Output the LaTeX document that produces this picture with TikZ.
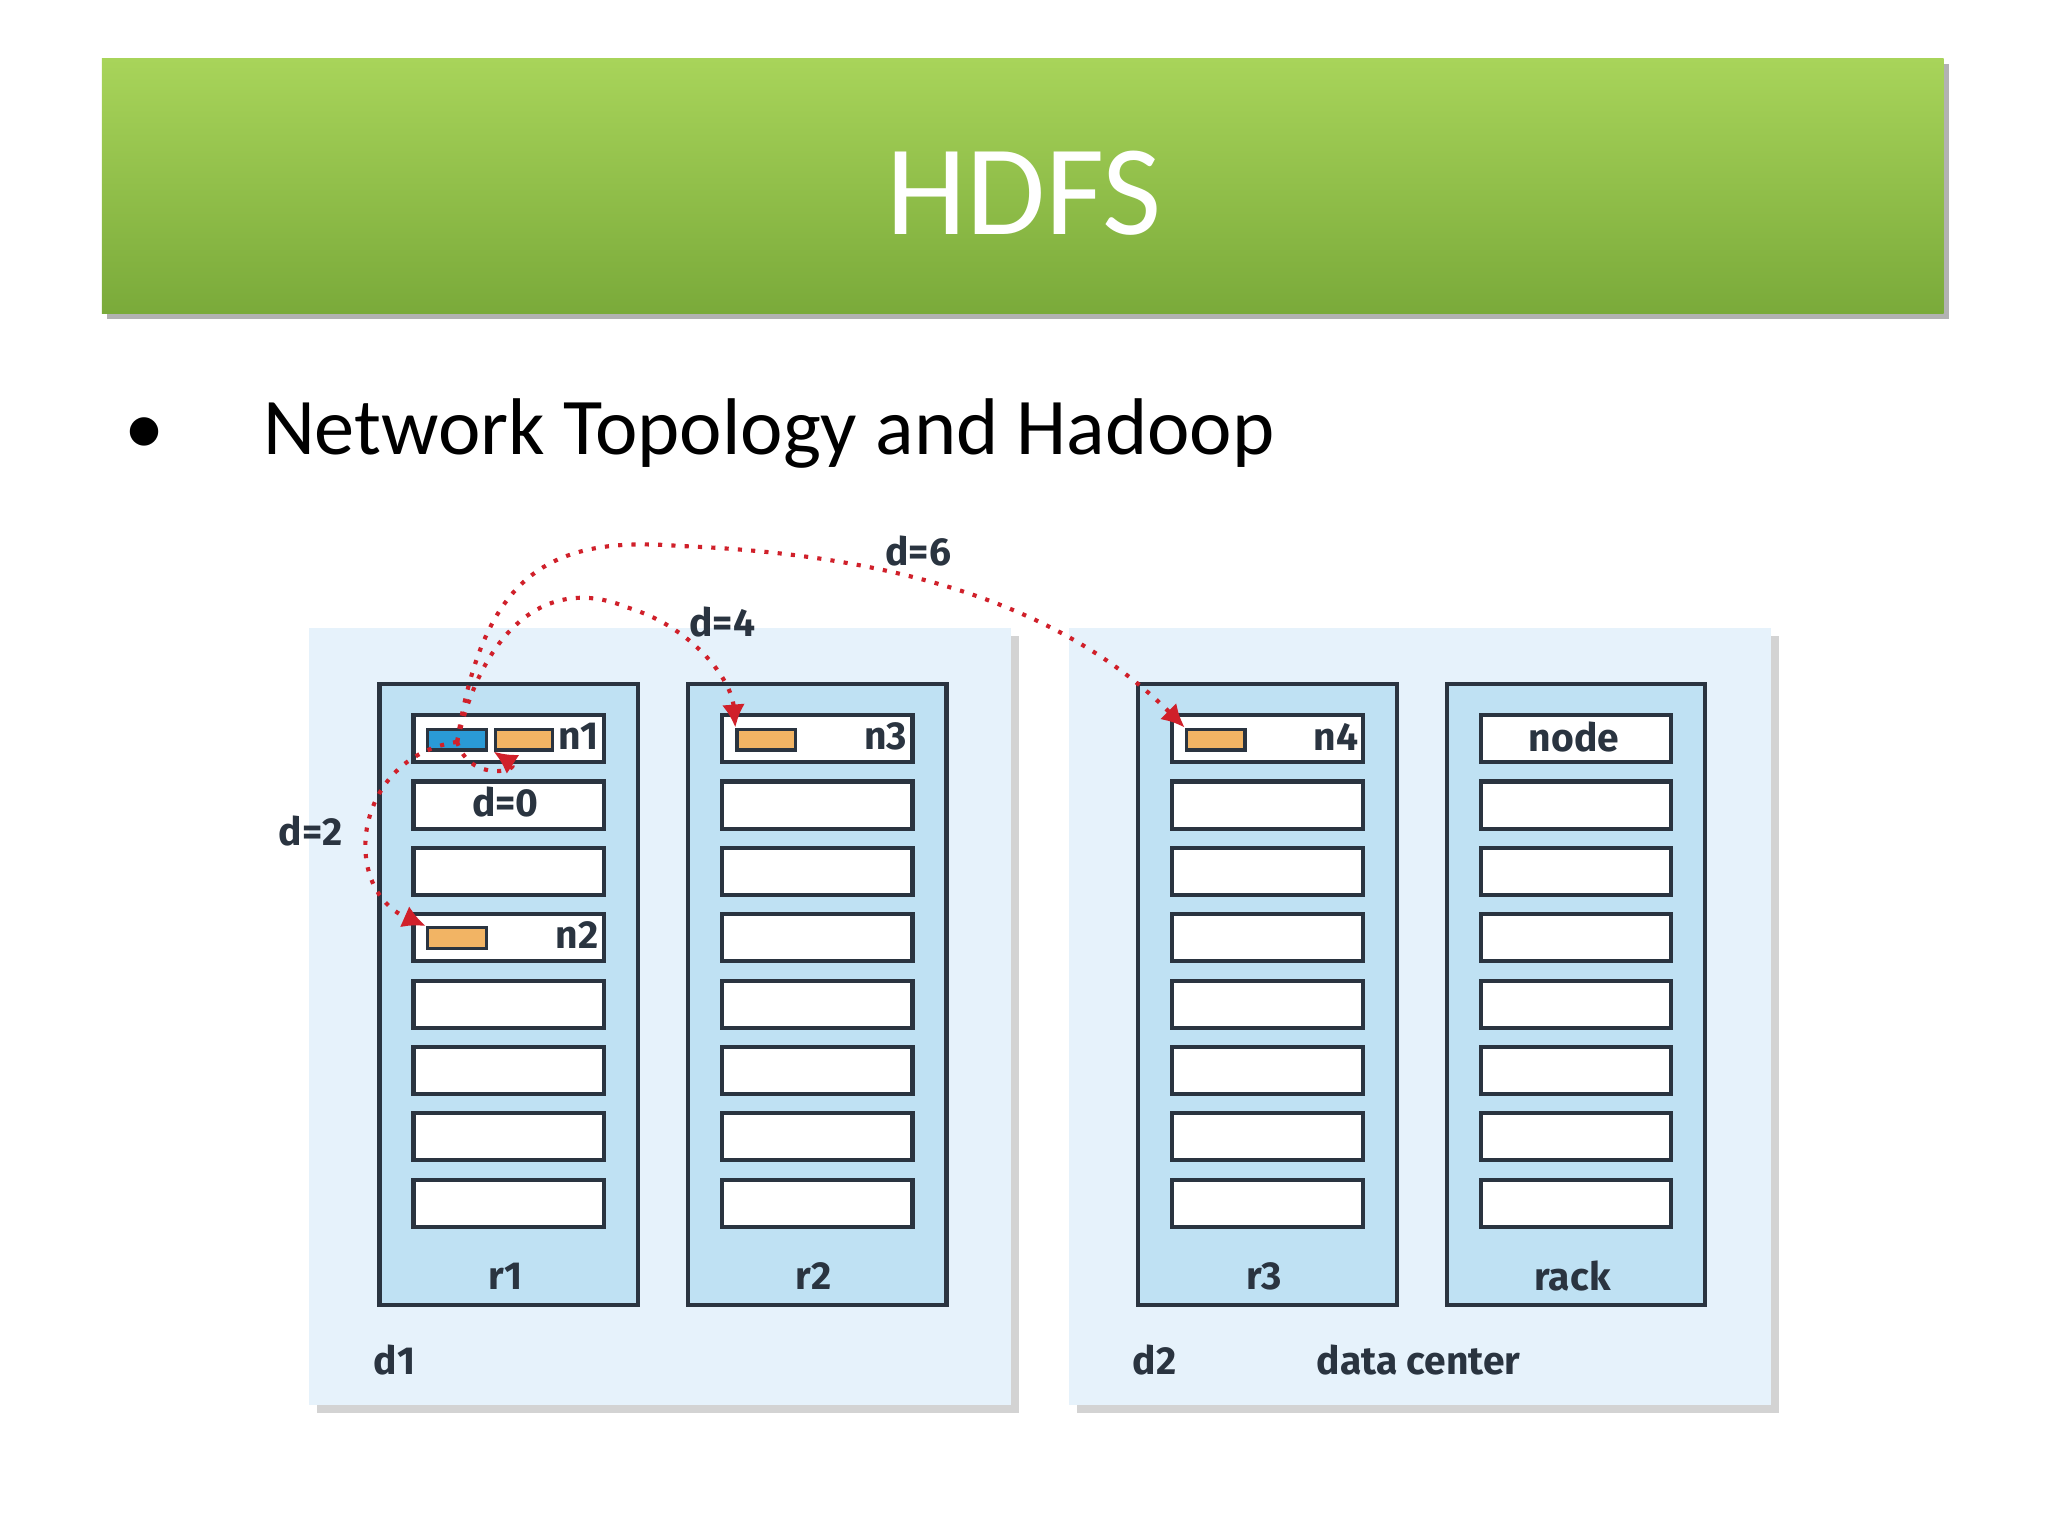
\documentclass[tikz,border=0pt]{standalone}
\usepackage{fontspec}
\setmainfont{Carlito}
\newfontfamily\lbl{Fira Sans}
\usetikzlibrary{arrows.meta,shadows}
\definecolor{dcfill}{HTML}{E6F2FB}
\definecolor{rackfill}{HTML}{BFE1F3}
\definecolor{edge}{HTML}{2A3440}
\definecolor{blk}{HTML}{F2B464}
\definecolor{blu}{HTML}{2A9AD6}
\definecolor{arr}{HTML}{D0202A}
\definecolor{gtop}{HTML}{A8D45A}
\definecolor{gbot}{HTML}{7AAA3A}
\begin{document}
\begin{tikzpicture}[x=0.01cm,y=-0.01cm,
  dc/.style={fill=dcfill,draw=none,drop shadow={shadow xshift=0.06cm,shadow yshift=-0.06cm,opacity=0.35}},
  rackbox/.style={fill=rackfill,draw=edge,line width=0.9pt},
  nodebox/.style={fill=white,draw=edge,line width=0.9pt},
  blkbox/.style={fill=blk,draw=edge,line width=0.7pt},
  lab/.style={font=\lbl\bfseries\fontsize{8.5}{9}\selectfont,text=edge,inner sep=0pt},
  hop/.style={draw=arr,line width=0.9pt,dotted,-{Latex[length=5pt,width=5pt]}}]
\useasboundingbox (0,0) rectangle (1568,1176);
% title bar
\fill[black!30] (82,49) rectangle (1492,244);
\shade[top color=gtop,bottom color=gbot] (78,45) rectangle (1488,240);
\node[text=white,font=\fontsize{28}{30}\selectfont] (title) at (784,148) {HDFS};
\node[anchor=base west,font=\fontsize{17.5}{20}\selectfont,inner sep=0pt] (bul) at (95,348) {\textbullet\hspace{0.75cm}Network Topology and Hadoop};
% data centers
\node[dc,minimum width=5.37cm,minimum height=5.95cm,anchor=north west] (d1) at (236,480) {};
\node[dc,minimum width=5.37cm,minimum height=5.95cm,anchor=north west] (d2) at (818,480) {};
% racks and nodes
\foreach \rx/\nm/\rl in {289/r1/r1,525/r2/r2,870/r3/r3,1106/rk/rack}{
  \node[rackbox,minimum width=1.98cm,minimum height=4.75cm,anchor=north west] (\nm) at (\rx,522) {};
  \node[lab] (\nm lab) at (\rx+98,977) {\rl};
  \foreach \i in {0,...,7}{
    \node[nodebox,minimum width=1.46cm,minimum height=0.36cm,anchor=north west,inner sep=0pt] (\nm n\i) at (\rx+26,546+\i*50.8) {};
  }
}
\node[lab] (d1lab) at (302,1041) {d1};
\node[lab] (d2lab) at (884,1041) {d2};
\node[lab] (dclab) at (1086,1041) {data center};
\node[lab] (nodelab) at (1205,564) {node};
% blocks
\node[fill=blu,draw=edge,line width=0.7pt,minimum width=0.45cm,minimum height=0.16cm,inner sep=0pt,anchor=north west] (b0) at (326,557) {};
\node[blkbox,minimum width=0.44cm,minimum height=0.16cm,inner sep=0pt,anchor=north west] (b1) at (378,557) {};
\node[blkbox,minimum width=0.45cm,minimum height=0.16cm,inner sep=0pt,anchor=north west] (b2) at (326,709) {};
\node[blkbox,minimum width=0.45cm,minimum height=0.16cm,inner sep=0pt,anchor=north west] (b3) at (563,557) {};
\node[blkbox,minimum width=0.45cm,minimum height=0.16cm,inner sep=0pt,anchor=north west] (b4) at (907,557) {};
\node[lab] (n1) at (443,564) {n1};
\node[lab] (n2) at (442,716) {n2};
\node[lab] (n3) at (678,564) {n3};
\node[lab] (n4) at (1023,564) {n4};
\node[lab] (d0) at (387,614) {d=0};
\node[lab] (d2l) at (238,636) {d=2};
\node[lab] (d4l) at (553,476) {d=4};
\node[lab] (d6l) at (703,422) {d=6};
% hops
\coordinate (s) at (350,568);
\draw[hop] (s) .. controls (360,600) and (400,590) .. (b1.south west);
\draw[hop] (s) .. controls (270,580) and (260,680) .. (b2.north west);
\draw[hop] (s) .. controls (370,480) and (420,440) .. (480,465) .. controls (530,480) and (560,520) .. (b3.north west);
\draw[hop] (s) .. controls (370,440) and (420,410) .. (520,418) .. controls (700,425) and (820,470) .. (b4.north west);
\end{tikzpicture}
\end{document}
